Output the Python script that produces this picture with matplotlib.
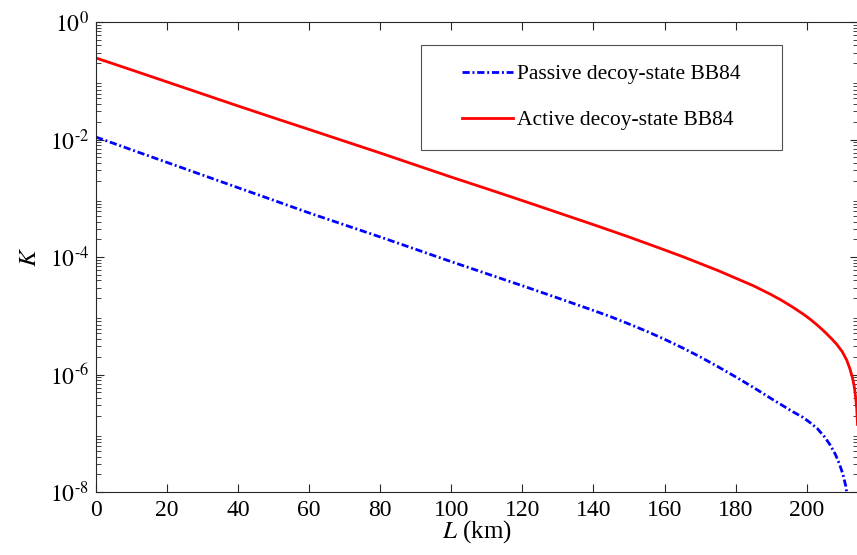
import matplotlib
matplotlib.use("Agg")
import numpy as np
import matplotlib.pyplot as plt
from matplotlib.ticker import LogLocator, NullFormatter, FuncFormatter
from matplotlib.legend_handler import HandlerLine2D

plt.rcParams['font.family'] = ['Liberation Serif', 'DejaVu Serif']
plt.rcParams['mathtext.fontset'] = 'stix'

# Active decoy-state BB84 (red)
L_active = [0, 10, 20, 30, 40, 50, 60, 70, 80, 90, 100, 110, 120, 130, 140, 145, 150,
            155, 160, 165, 170, 175, 180, 185, 190, 193, 196, 199, 201, 203, 205, 207,
            208.5, 210, 211.3, 212.2, 212.9, 213.4, 213.8, 214.1, 214.3]
K_active = [2.44e-1, 1.53e-1, 9.55e-2, 5.96e-2, 3.72e-2, 2.34e-2, 1.48e-2, 9.33e-3,
            5.89e-3, 3.67e-3, 2.29e-3, 1.45e-3, 9.12e-4, 5.69e-4, 3.55e-4, 2.79e-4,
            2.19e-4, 1.70e-4, 1.32e-4, 1.02e-4, 7.76e-5, 5.89e-5, 4.37e-5, 3.24e-5,
            2.29e-5, 1.82e-5, 1.41e-5, 1.07e-5, 8.71e-6, 6.92e-6, 5.37e-6, 4.07e-6,
            3.24e-6, 2.45e-6, 1.74e-6, 1.23e-6, 8.71e-7, 6.17e-7, 3.98e-7, 2.51e-7,
            1.41e-7]

# Passive decoy-state BB84 (blue)
L_passive = [0, 10, 20, 30, 40, 50, 60, 70, 80, 90, 100, 110, 120, 130, 140, 145, 150,
             155, 160, 165, 170, 175, 180, 185, 190, 193, 196, 199, 201, 203, 205,
             206.5, 208, 209.2, 210.2, 211.0, 211.5]
K_passive = [1.10e-2, 6.68e-3, 4.07e-3, 2.48e-3, 1.51e-3, 9.23e-4, 5.62e-4, 3.51e-4,
             2.19e-4, 1.35e-4, 8.32e-5, 5.19e-5, 3.24e-5, 2.00e-5, 1.23e-5, 9.55e-6,
             7.24e-6, 5.43e-6, 3.98e-6, 2.85e-6, 2.00e-6, 1.36e-6, 9.12e-7, 6.03e-7,
             3.89e-7, 3.02e-7, 2.34e-7, 1.86e-7, 1.51e-7, 1.20e-7, 8.71e-8, 6.46e-8,
             4.47e-8, 3.02e-8, 2.00e-8, 1.26e-8, 7.94e-9]

x_ticks = [0, 20, 40, 60, 80, 100, 120, 140, 160, 180, 200]
y_ticks = [1e-8, 1e-6, 1e-4, 1e-2, 1e0]
series_labels = ['Passive decoy-state BB84', 'Active decoy-state BB84']

dark = (0.15, 0.15, 0.15)


class LeadLineHandler(HandlerLine2D):
    """Legend line sample drawn in the right part of the handle box."""
    def __init__(self, lead, **kw):
        super().__init__(**kw)
        self.lead = lead

    def get_xdata(self, legend, xdescent, ydescent, width, height, fontsize):
        x = np.array([-xdescent + self.lead * fontsize, -xdescent + width])
        return x, x


def sci_label(v, pos):
    e = int(round(np.log10(v)))
    if e < 0:
        return r'$10^{\text{-}%d}$' % (-e)
    return r'$10^{%d}$' % e


fig = plt.figure(figsize=(8.57, 5.55), dpi=100)
ax = fig.add_axes([96/857, (555-492)/555, (857.5-96)/857, 470/555])

ln_p, = ax.plot(L_passive, K_passive, color='blue', lw=2.0, linestyle='-.',
                label=series_labels[0])
ln_p.set_dashes((2.6, 1.0, 0.7, 1.0))
ln_a, = ax.plot(L_active, K_active, color='red', lw=2.0, linestyle='-',
                label=series_labels[1])

ax.set_yscale('log')
ax.set_ylim(1e-8, 1e0)
ax.set_xlim(0, 214.3)
ax.set_xticks(x_ticks)
ax.set_yticks(y_ticks)
ax.yaxis.set_major_formatter(FuncFormatter(sci_label))
ax.yaxis.set_minor_locator(LogLocator(base=10, subs=[2, 3, 4, 5, 6, 7, 8, 9], numticks=50))
ax.yaxis.set_minor_formatter(NullFormatter())

ax.tick_params(which='both', direction='in', top=True, right=True, colors=dark,
               labelcolor='black', labelsize=17)
ax.tick_params(which='major', length=6, width=0.8)
ax.tick_params(which='minor', length=3.5, width=0.6)
ax.tick_params(axis='x', pad=6)
ax.tick_params(axis='y', pad=5)
for s in ax.spines.values():
    s.set_color(dark)
    s.set_linewidth(0.8)

ax.set_xlabel(r'$L$ (km)', fontsize=18, labelpad=-2)
ax.set_ylabel(r'$K$', fontsize=18, labelpad=6)

fs = 15.5
leg = ax.legend(handles=[ln_p, ln_a],
                loc='upper left', mode='expand',
                bbox_to_anchor=((421-96)/761, 0, (782-421)/761, (492-45)/470),
                borderaxespad=0, fontsize=fs, frameon=True, fancybox=False,
                edgecolor=dark, handlelength=3.37, handletextpad=0.19,
                labelspacing=1.2, borderpad=0.9,
                handler_map={ln_p: LeadLineHandler(1.0), ln_a: LeadLineHandler(1.0)})
leg.get_frame().set_linewidth(0.8)

fig.savefig('out.png', dpi=100)
